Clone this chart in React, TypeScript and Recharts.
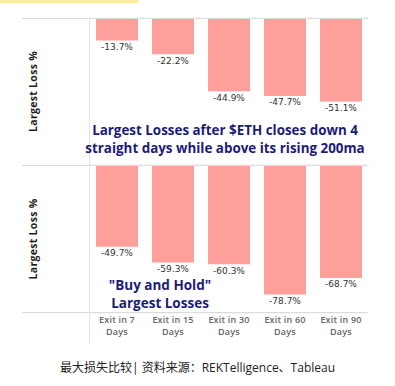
import React from 'react'
import { BarChart, Bar, XAxis, YAxis, CartesianGrid, LabelList } from 'recharts'

// categories + values
const categories = ['Exit in 7 Days', 'Exit in 15 Days', 'Exit in 30 Days', 'Exit in 60 Days', 'Exit in 90 Days']
const afterCloseLosses = [-13.7, -22.2, -44.9, -47.7, -51.1]
const buyHoldLosses = [-49.7, -59.3, -60.3, -78.7, -68.7]
const lossTicks = [0, -10, -20, -30, -40, -50, -60, -70, -80, -90]

const BAR_COLOR = '#fe9f9c'
const NAVY = '#1c1c78'

const topData = categories.map((name, i) => ({ name, loss: afterCloseLosses[i] }))
const bottomData = categories.map((name, i) => ({ name, loss: buyHoldLosses[i] }))

const ValueLabel = (props: any) => {
  const { x, y, width, height, value } = props
  const bottom = Math.max(y, y + height)
  return (
    <text
      x={x + width / 2}
      y={bottom + 7}
      textAnchor="middle"
      dominantBaseline="middle"
      fontSize={9}
      fontFamily="'DejaVu Sans', sans-serif"
      fill="#333"
    >
      {`${value.toFixed(1)}%`}
    </text>
  )
}

const ExitTick = (props: any) => {
  const { x, y, payload } = props
  const words = String(payload.value).split(' ')
  const first = words.slice(0, -1).join(' ')
  const last = words[words.length - 1]
  return (
    <text
      x={x}
      y={y}
      textAnchor="middle"
      fontSize={9}
      fontWeight={600}
      fontFamily="'Open Sans', sans-serif"
      fill="#666"
      letterSpacing={0.2}
    >
      <tspan x={x} dy={9.5}>{first}</tspan>
      <tspan x={x} dy={12}>{last}</tspan>
    </text>
  )
}

const yLabel = {
  value: 'Largest Loss  %',
  angle: -90,
  position: 'insideLeft' as const,
  offset: 11,
  style: {
    textAnchor: 'middle',
    fontSize: 10.5,
    fontWeight: 700,
    fontFamily: "'Open Sans', sans-serif",
    fill: '#1e1e1e',
    letterSpacing: 0.3,
    whiteSpace: 'pre',
  },
}

const line = (left: number, top: number, width: number, height: number, color: string) => (
  <div style={{ position: 'absolute', left, top, width, height, background: color }} />
)

export default function App() {
  return (
    <div
      style={{
        position: 'absolute',
        left: 0,
        top: 0,
        width: 395,
        height: 386,
        background: '#fff',
        overflow: 'hidden',
        fontFamily: "'Open Sans', sans-serif",
      }}
    >
      {/* yellow strip at very top */}
      {line(0, 0, 138, 3, '#fde9a2')}

      <div style={{ position: 'absolute', left: 0, top: 0 }}>
        <BarChart
          width={395}
          height={166}
          data={topData}
          margin={{ top: 18, right: 26, left: 22, bottom: 1 }}
          barCategoryGap="12.5%"
        >
          <CartesianGrid vertical={false} stroke="#f0f0f0" />
          <XAxis dataKey="name" hide />
          <YAxis
            type="number"
            domain={[-90, 0]}
            ticks={lossTicks}
            width={67}
            tick={false}
            tickLine={false}
            axisLine={false}
            label={yLabel}
          />
          <Bar dataKey="loss" fill={BAR_COLOR} isAnimationActive={false}>
            <LabelList dataKey="loss" content={<ValueLabel />} />
          </Bar>
        </BarChart>
      </div>

      <div style={{ position: 'absolute', left: 0, top: 0 }}>
        <BarChart
          width={395}
          height={345}
          data={bottomData}
          margin={{ top: 165, right: 26, left: 22, bottom: 0 }}
          barCategoryGap="12.5%"
        >
          <CartesianGrid vertical={false} stroke="#f0f0f0" />
          <XAxis
            dataKey="name"
            height={32}
            interval={0}
            tickLine={false}
            axisLine={false}
            tickSize={0}
            tickMargin={0}
            tick={<ExitTick />}
          />
          <YAxis
            type="number"
            domain={[-90, 0]}
            ticks={lossTicks}
            width={67}
            tick={false}
            tickLine={false}
            axisLine={false}
            label={yLabel}
          />
          <Bar dataKey="loss" fill={BAR_COLOR} isAnimationActive={false}>
            <LabelList dataKey="loss" content={<ValueLabel />} />
          </Bar>
        </BarChart>
      </div>

      {/* panel separators and left rule */}
      {line(22, 18, 346, 1, '#dcdcdc')}
      {line(22, 165, 346, 1, '#dcdcdc')}
      {line(22, 312, 346, 1, '#dcdcdc')}
      {line(89, 18, 1, 325, '#e2e2e2')}

      <div
        style={{
          position: 'absolute',
          left: 75,
          width: 300,
          top: 121,
          textAlign: 'center',
          color: NAVY,
          fontSize: 13.4,
          fontWeight: 700,
          lineHeight: '18px',
        }}
      >
        Largest Losses after $ETH closes down 4
        <br />
        straight days while above its rising 200ma
      </div>

      <div
        style={{
          position: 'absolute',
          left: 90,
          width: 140,
          top: 277,
          textAlign: 'center',
          color: NAVY,
          fontSize: 13.5,
          fontWeight: 700,
          lineHeight: '17.5px',
        }}
      >
        "Buy and Hold"
        <br />
        Largest Losses
      </div>

      <div
        style={{
          position: 'absolute',
          left: 0,
          width: 395,
          top: 360,
          textAlign: 'center',
          color: '#222',
          fontSize: 12,
          lineHeight: '16px',
          fontFamily: "'Open Sans', 'Noto Sans CJK SC', sans-serif",
        }}
      >
        最大损失比较| 资料来源：REKTelligence、Tableau
      </div>
    </div>
  )
}
